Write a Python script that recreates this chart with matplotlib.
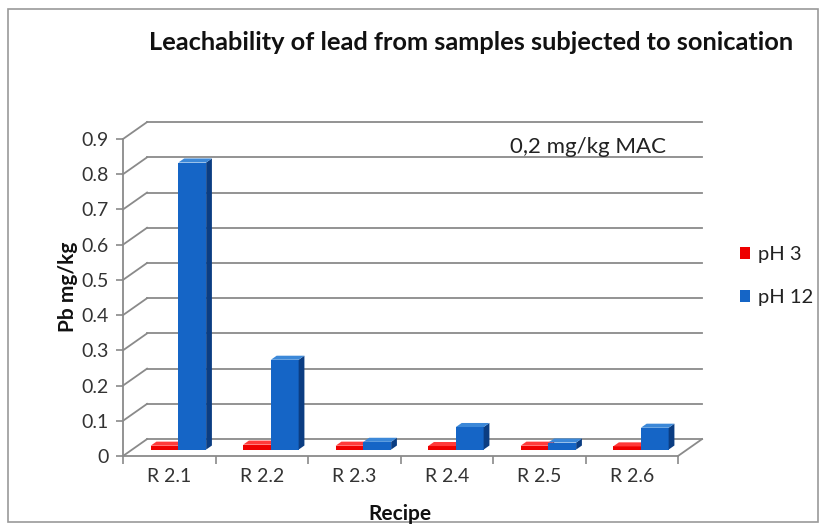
import numpy as np
import matplotlib.pyplot as plt
from matplotlib.patches import Polygon, Patch, Rectangle

# data
recipes = ['R 2.1', 'R 2.2', 'R 2.3', 'R 2.4', 'R 2.5', 'R 2.6']
ph3 = [0.011, 0.014, 0.011, 0.010, 0.011, 0.009]
ph12 = [0.815, 0.255, 0.022, 0.064, 0.020, 0.062]
series_names = ['pH 3', 'pH 12']
yticks = np.arange(0, 0.91, 0.1)

plt.rcParams['font.family'] = ['Lato', 'DejaVu Sans']

W, H = 826, 528
fig = plt.figure(figsize=(W / 100, H / 100), dpi=100)
fx = lambda x: x / W
fy = lambda y: 1 - y / H

# front plane of the fake 3d box
ax = fig.add_axes([fx(123), fy(456), fx(678) - fx(123), fy(139) - fy(456)])
n = len(recipes)
ax.set_xlim(0, n)
ax.set_ylim(0, 0.9)

# depth offset of the back wall, in data units
DX, DY = 0.26, 0.048
grid_c = '#8a8a8a'

for v in yticks:
    ax.plot([DX, n + DX], [v + DY, v + DY], color=grid_c, lw=1.3, clip_on=False, zorder=1)
    ax.plot([0, DX], [v, v + DY], color=grid_c, lw=1.3, clip_on=False, zorder=1)
ax.plot([n, n + DX], [0, DY], color=grid_c, lw=1.3, clip_on=False, zorder=1)

# bars
bw = 0.3
f0, f1 = 0.38, 0.62
colors = [('#ee0000', '#ff3a3a', '#a00000'),
          ('#1565c6', '#3c88d8', '#0b3d82')]

def bar3d(x0, v, cols):
    front, top, side = cols
    ox0, oy0 = f0 * DX, f0 * DY
    ox1, oy1 = f1 * DX, f1 * DY
    ax.add_patch(Polygon([(x0 + ox0, oy0), (x0 + bw + ox0, oy0),
                          (x0 + bw + ox0, v + oy0), (x0 + ox0, v + oy0)],
                         closed=True, fc=front, ec='none', zorder=3, clip_on=False))
    ax.add_patch(Polygon([(x0 + bw + ox0, oy0), (x0 + bw + ox1, oy1),
                          (x0 + bw + ox1, v + oy1), (x0 + bw + ox0, v + oy0)],
                         closed=True, fc=side, ec='none', zorder=3, clip_on=False))
    ax.add_patch(Polygon([(x0 + ox0, v + oy0), (x0 + bw + ox0, v + oy0),
                          (x0 + bw + ox1, v + oy1), (x0 + ox1, v + oy1)],
                         closed=True, fc=top, ec='none', zorder=3, clip_on=False))

for i in range(n):
    bar3d(i + 0.5 - bw, ph3[i], colors[0])
    bar3d(i + 0.5, ph12[i], colors[1])

# axes styling
for s in ['top', 'right']:
    ax.spines[s].set_visible(False)
for s in ['left', 'bottom']:
    ax.spines[s].set_color(grid_c)
    ax.spines[s].set_linewidth(1.3)
ax.set_facecolor('none')
ax.set_yticks(yticks)
ax.set_yticklabels([f'{v:g}' for v in np.round(yticks, 1)])
ax.set_xticks(np.arange(n + 1))
ax.set_xticklabels([])
ax.set_xticks(np.arange(n) + 0.5, minor=True)
ax.set_xticklabels(recipes, minor=True)
ax.tick_params(axis='x', which='major', length=6, color=grid_c, width=1.2)
ax.tick_params(axis='x', which='minor', length=0, pad=9, labelsize=14, labelcolor='#333333')
ax.tick_params(axis='y', length=5, color=grid_c, width=1.2, labelsize=14, labelcolor='#333333', pad=5)

ax.text(4.18, 0.8 + DY + 0.012, '0,2 mg/kg MAC', fontsize=16, color='#222222', zorder=4)

fig.text(fx(471), fy(42), 'Leachability of lead from samples subjected to sonication',
         ha='center', va='center', fontsize=18.3, fontweight='bold', color='#111111')
fig.text(fx(68), fy(287), 'Pb mg/kg', rotation=90, ha='center', va='center',
         fontsize=15, fontweight='bold', color='#111111')
fig.text(fx(400), fy(514), 'Recipe', ha='center', va='center',
         fontsize=15, fontweight='bold', color='#111111')

handles = [Patch(fc=colors[k][0], ec='none', label=series_names[k]) for k in range(2)]
fig.legend(handles=handles, loc='upper left', bbox_to_anchor=(fx(722), fy(228)),
           frameon=False, fontsize=14.5, handlelength=0.5, handleheight=0.5,
           handletextpad=0.4, labelspacing=1.3, labelcolor='#222222')

fig.add_artist(Rectangle((fx(8), fy(522)), fx(818) - fx(8), fy(9) - fy(522),
                         transform=fig.transFigure, fill=False, ec='#9a9a9a', lw=1.2))

fig.savefig('out.png', dpi=100, facecolor='white')
